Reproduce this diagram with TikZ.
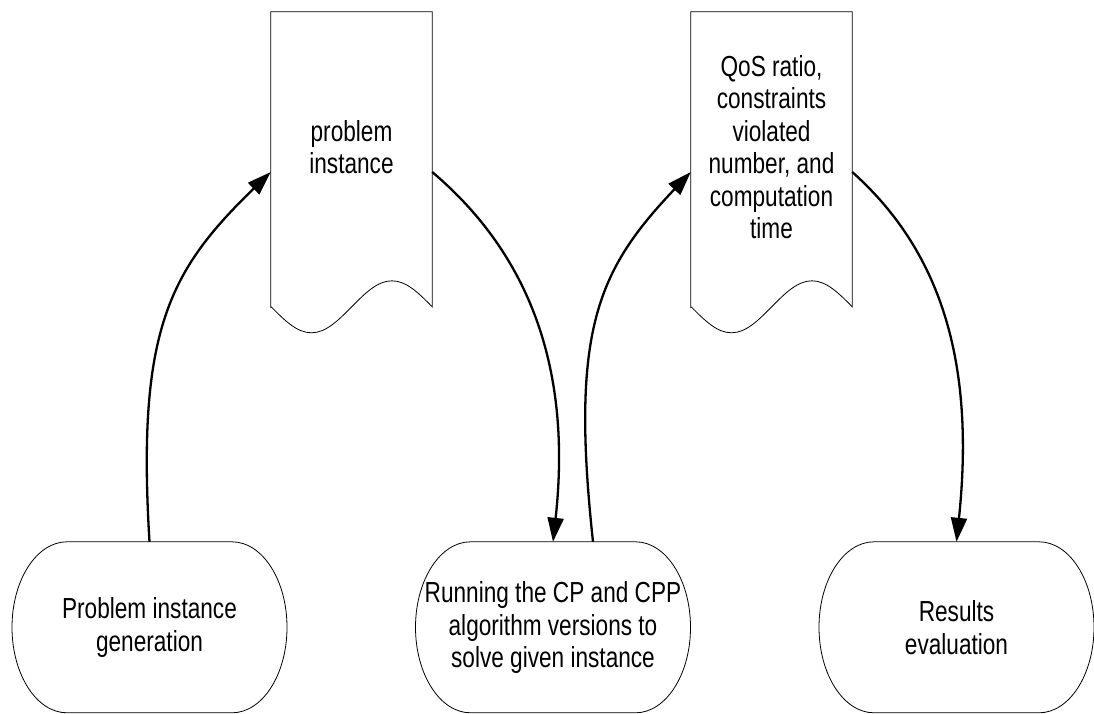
\documentclass[tikz,border=0pt]{standalone}
\usepackage{fontspec}
\setmainfont[FakeStretch=0.78]{Liberation Sans}
\usetikzlibrary{arrows.meta,calc}

% outline of a terminal (rounded ends) around a named node
\newcommand\termoutline[1]{%
  \draw[outline] (#1.north) ++(-82.5,0) -- ++(165,0)
    .. controls +(30.4,0) and +(0,-47.2) .. ++(55,85.5)
    .. controls +(0,47.2) and +(30.4,0) .. ++(-55,85.5)
    -- ++(-165,0)
    .. controls +(-30.4,0) and +(0,47.2) .. ++(-55,-85.5)
    .. controls +(0,-47.2) and +(-30.4,0) .. ++(55,-85.5)
    -- cycle;}
% outline of a document symbol (wavy bottom) around a named node
\newcommand\docoutline[1]{%
  \draw[outline] (#1.south west) ++(0,25) -- (#1.north west) -- (#1.north east)
    -- ++(0,295) sin ++(-40.25,-26) cos ++(-40.25,26)
    sin ++(-40.25,26) cos ++(-40.25,-26) -- cycle;}

\tikzset{
  label font/.style={font=\fontsize{29}{32.5}\selectfont},
  terminal/.style={label font, minimum width=275pt, minimum height=171pt,
    inner sep=0pt, align=center},
  document/.style={label font, minimum width=161pt, minimum height=270pt,
    inner sep=0pt, align=center},
  outline/.style={draw=black, line width=0.8pt},
  flow/.style={line width=2.3pt, -{Triangle[length=24pt,width=16pt]}},
}

\begin{document}
\begin{tikzpicture}[x=1pt, y=-1pt]
  \useasboundingbox (0,0) rectangle (1094,714);

  % process steps
  \node[terminal] (t1) at (149.5,627.5) {Problem instance\\generation};
  \node[terminal] (t2) at (553,627.5) {Running the CP and CPP\\algorithm versions to\\solve given instance};
  \node[terminal] (t3) at (956.5,627.5) {Results\\evaluation};

  % data documents
  \node[document] (d1) at (351.5,147) {problem\\instance};
  \node[document] (d2) at (771.5,147) {QoS ratio,\\constraints\\violated\\number, and\\computation\\time};

  \termoutline{t1}
  \termoutline{t2}
  \termoutline{t3}
  \docoutline{d1}
  \docoutline{d2}

  % flow between steps and documents
  \draw[flow] (t1.north) .. controls +(-13,-212) and +(-101,98) .. ($(d1.west)+(0,25)$);
  \draw[flow] ($(d1.east)+(0,25)$) .. controls +(98,83) and +(19,-172) .. (t2.north);
  \draw[flow] ($(t2.north)+(40,0)$) .. controls +(-23,-212) and +(-93,98) .. ($(d2.west)+(0,25)$);
  \draw[flow] ($(d2.east)+(0,25)$) .. controls +(93,83) and +(18,-172) .. (t3.north);
\end{tikzpicture}
\end{document}
